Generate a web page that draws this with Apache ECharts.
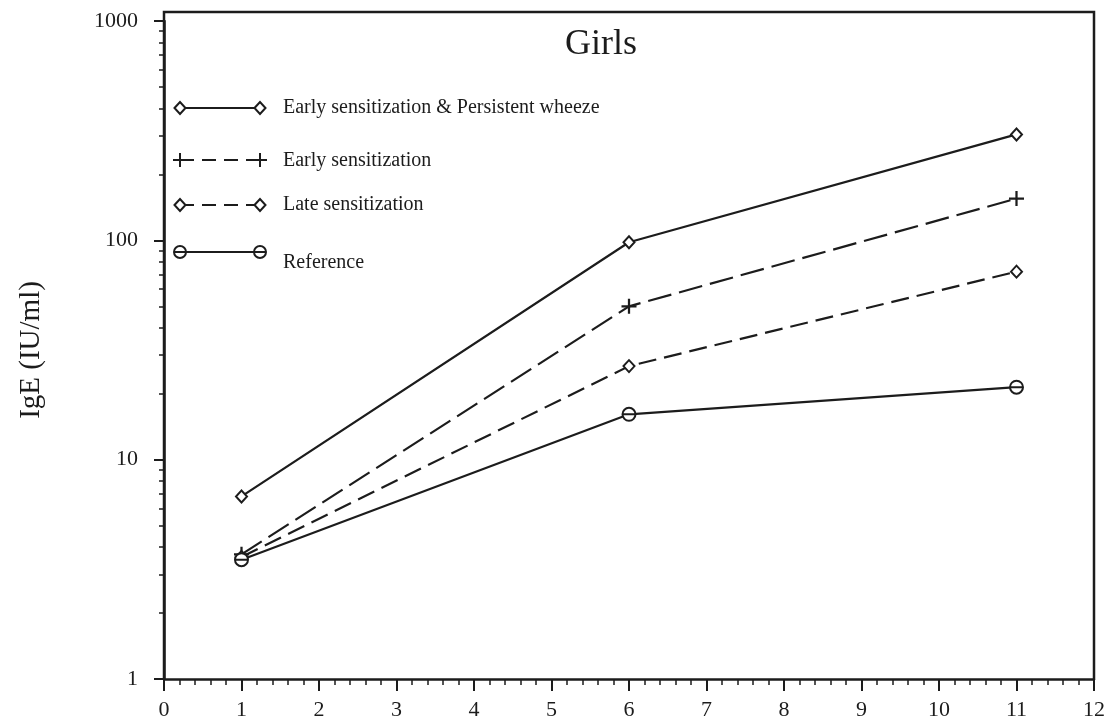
<!DOCTYPE html>
<html><head><meta charset="utf-8">
<script src="https://cdn.jsdelivr.net/npm/echarts@6/dist/echarts.min.js"></script>
<style>html,body{margin:0;padding:0;background:#fff}#c{width:1111px;height:726px}</style>
</head><body><div id="c"></div>
<script>
// ---- data ----
const ages = [1, 6, 11];
const seriesNames = ['Early sensitization & Persistent wheeze', 'Early sensitization', 'Late sensitization', 'Reference'];
const earlyPersistentWheeze = [6.8, 98, 304];
const earlySensitization = [3.7, 50, 155];
const lateSensitization = [3.6, 26.7, 72];
const referenceGroup = [3.5, 16.1, 21.4];
const xTickValues = [0, 1, 2, 3, 4, 5, 6, 7, 8, 9, 10, 11, 12];
const yMajorTicks = [1, 10, 100, 1000];
const yMinorTicks = [2, 3, 4, 5, 6, 7, 8, 9, 20, 30, 40, 50, 60, 70, 80, 90, 200, 300, 400, 500, 600, 700, 800, 900];
const chartTitle = 'Girls';
const yAxisTitle = 'IgE (IU/ml)';

// ---- style ----
const INK = '#1c1c1c';
const FONT = '"Liberation Serif", "DejaVu Serif", serif';
const G = { left: 164, right: 17, top: 21, bottom: 47 };
const W = 1111, H = 726;
const frameTop = 12;

const SYM = {
  diamond: { symbol: 'path://M5,0L10,6L5,12L0,6Z', size: [11, 12], fill: '#fff', bw: 2 },
  plus: { symbol: 'path://M5.1,0H6.9V5.1H12V6.9H6.9V12H5.1V6.9H0V5.1H5.1Z', size: [15, 15], fill: INK, bw: 0 },
  theta: { symbol: 'path://M0,6A6,6,0,1,1,12,6A6,6,0,1,1,0,6ZM0,6L12,6', size: [13, 13], fill: '#fff', bw: 2 }
};
const seriesDefs = [
  { name: seriesNames[0], data: earlyPersistentWheeze, marker: 'diamond', dash: 'solid' },
  { name: seriesNames[1], data: earlySensitization, marker: 'plus', dash: [24, 8] },
  { name: seriesNames[2], data: lateSensitization, marker: 'diamond', dash: [18, 8] },
  { name: seriesNames[3], data: referenceGroup, marker: 'theta', dash: 'solid' }
];

const series = seriesDefs.map(function (d, i) {
  const s = SYM[d.marker];
  return {
    type: 'line', name: d.name,
    data: ages.map(function (a, j) { return [a, d.data[j]]; }),
    symbol: s.symbol, symbolSize: s.size,
    lineStyle: { color: INK, width: 2.2, type: d.dash },
    itemStyle: { color: s.fill, borderColor: INK, borderWidth: s.bw },
    z: 3 + i, animation: false
  };
});

// legend drawn with graphic elements
const legendRows = [108, 160, 205, 252];
const legendTextY = [108, 161, 205, 263];
function marker(kind, cx, cy) {
  if (kind === 'diamond') return [{ type: 'polygon', shape: { points: [[cx - 5.5, cy], [cx, cy - 6], [cx + 5.5, cy], [cx, cy + 6]] }, style: { fill: '#fff', stroke: INK, lineWidth: 2 }, z: 10 }];
  if (kind === 'plus') return [
    { type: 'line', shape: { x1: cx - 7, y1: cy, x2: cx + 7, y2: cy }, style: { stroke: INK, lineWidth: 2 }, z: 10 },
    { type: 'line', shape: { x1: cx, y1: cy - 7, x2: cx, y2: cy + 7 }, style: { stroke: INK, lineWidth: 2 }, z: 10 }];
  return [
    { type: 'circle', shape: { cx: cx, cy: cy, r: 6 }, style: { fill: '#fff', stroke: INK, lineWidth: 2 }, z: 10 },
    { type: 'line', shape: { x1: cx - 6, y1: cy, x2: cx + 6, y2: cy }, style: { stroke: INK, lineWidth: 2 }, z: 11 }];
}
const graphics = [];
seriesDefs.forEach(function (d, i) {
  const y = legendRows[i];
  graphics.push({ type: 'line', shape: { x1: 180, y1: y, x2: 260, y2: y }, style: { stroke: INK, lineWidth: 2, lineDash: d.dash === 'solid' ? null : [14, 8] }, z: 9 });
  marker(d.marker, 180, y).forEach(function (e) { graphics.push(e); });
  marker(d.marker, 260, y).forEach(function (e) { graphics.push(e); });
  graphics.push({ type: 'text', style: { text: d.name, x: 283, y: legendTextY[i], fill: INK, font: '20px ' + FONT, align: 'left', verticalAlign: 'middle' }, z: 10 });
});
// frame
graphics.push({ type: 'polyline', shape: { points: [[G.left, H - G.bottom], [G.left, frameTop], [W - G.right, frameTop], [W - G.right, H - G.bottom]] }, style: { stroke: INK, lineWidth: 2.5, fill: null }, z: 20 });

const chart = echarts.init(document.getElementById('c'), null, { renderer: 'canvas' });
chart.setOption({
  backgroundColor: '#fff',
  animation: false,
  title: { text: chartTitle, left: 596, top: 22, textAlign: 'center', textStyle: { fontFamily: FONT, fontSize: 36, fontWeight: 'normal', color: INK } },
  grid: { left: G.left, right: G.right, top: G.top, bottom: G.bottom, containLabel: false },
  xAxis: {
    type: 'value', min: 0, max: 12, interval: 1,
    axisLine: { show: true, lineStyle: { color: INK, width: 2.5 } },
    axisTick: { show: true, length: 12, lineStyle: { color: INK, width: 2 } },
    minorTick: { show: true, splitNumber: 5, length: 6, lineStyle: { color: INK, width: 1.5 } },
    axisLabel: { color: INK, fontFamily: FONT, fontSize: 22, margin: 20, customValues: xTickValues },
    splitLine: { show: false }
  },
  yAxis: [{
    type: 'log', logBase: 10, min: 1, max: 1000,
    name: yAxisTitle, nameLocation: 'middle', nameRotate: 90, nameGap: 118,
    nameTextStyle: { fontFamily: FONT, fontSize: 29, color: INK },
    axisLine: { show: true, lineStyle: { color: INK, width: 2.5 } },
    axisTick: { show: true, length: 10, lineStyle: { color: INK, width: 2 }, customValues: yMajorTicks },
    axisLabel: { color: INK, fontFamily: FONT, fontSize: 22, margin: 26, customValues: yMajorTicks,
      formatter: function (v) { return String(Math.round(v)); } },
    splitLine: { show: false }
  }, {
    type: 'log', logBase: 10, min: 1, max: 1000, position: 'left',
    axisLine: { show: false },
    axisTick: { show: true, length: 5, lineStyle: { color: INK, width: 1.5 }, customValues: yMinorTicks },
    axisLabel: { show: false },
    splitLine: { show: false }
  }],
  series: series,
  graphic: graphics
});
</script></body></html>
